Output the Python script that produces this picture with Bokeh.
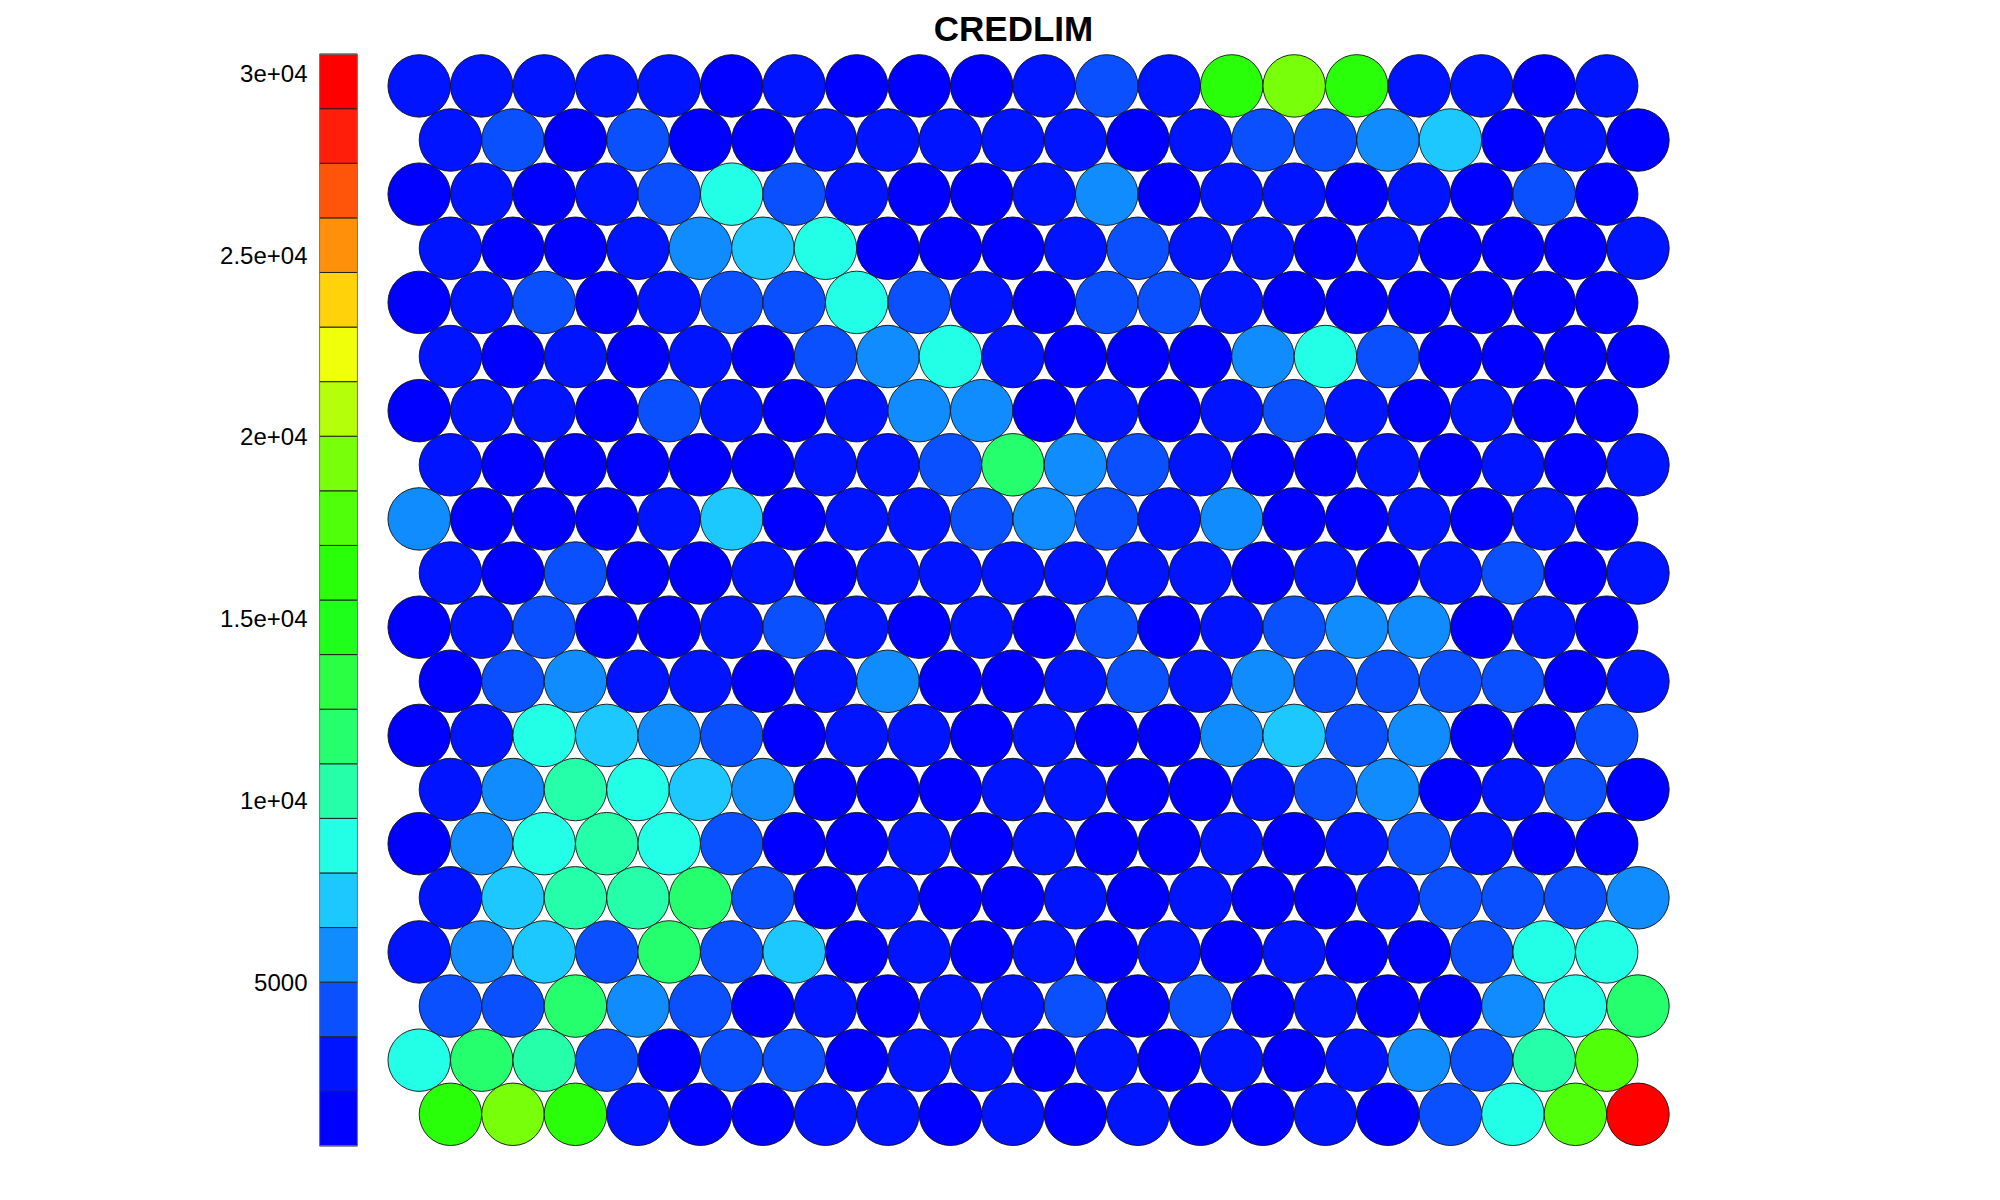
import math
from bokeh.plotting import figure
from bokeh.models import (ColumnDataSource, LinearColorMapper, Range1d, FixedTicker, Label)
from bokeh.layouts import row
from bokeh.embed import file_html
from bokeh.resources import INLINE

TITLE = "CREDLIM"

# colour scale (bottom -> top), 20 steps
PALETTE = ["#0000FF", "#0014FF", "#0A50FF", "#108CFF", "#1CC8FF", "#22FFE6", "#25FFAA",
           "#25FF6E", "#2AFF44", "#1EFF1C", "#2AFF0A", "#50FF0A", "#78FF0A", "#B4FF0A",
           "#F0FF0A", "#FFD20A", "#FF910A", "#FF550A", "#FF1E0A", "#FF0000"]
CB_LOW = 508
CB_HIGH = 30525
CB_TICKS = [5000, 10000, 15000, 20000, 25000, 30000]
CB_LABELS = ["5000", "1e+04", "1.5e+04", "2e+04", "2.5e+04", "3e+04"]

# SOM node values, rows listed from the top of the map, 20 nodes each
VALUES = [
    [2750, 2750, 2750, 2750, 2750, 1250, 2750, 1250, 1250, 1250, 2750, 4250, 2750, 16250, 19250, 16250, 2750, 2750, 1250, 2750],
    [2750, 4250, 1250, 4250, 1250, 1250, 2750, 2750, 2750, 2750, 2750, 1250, 2750, 4250, 4250, 5750, 7250, 1250, 2750, 1250],
    [1250, 2750, 1250, 2750, 4250, 8750, 4250, 2750, 1250, 1250, 2750, 5750, 1250, 2750, 2750, 1250, 2750, 1250, 4250, 1250],
    [2750, 1250, 1250, 2750, 5750, 7250, 8750, 1250, 1250, 1250, 2750, 4250, 2750, 2750, 1250, 2750, 1250, 1250, 1250, 2750],
    [1250, 2750, 4250, 1250, 2750, 4250, 4250, 8750, 4250, 2750, 1250, 4250, 4250, 2750, 1250, 1250, 1250, 1250, 1250, 1250],
    [2750, 1250, 2750, 1250, 2750, 1250, 4250, 5750, 8750, 2750, 1250, 1250, 1250, 5750, 8750, 4250, 1250, 1250, 1250, 1250],
    [1250, 2750, 2750, 1250, 4250, 2750, 1250, 2750, 5750, 5750, 1250, 2750, 1250, 2750, 4250, 2750, 1250, 2750, 1250, 1250],
    [2750, 1250, 1250, 1250, 1250, 1250, 2750, 2750, 4250, 11750, 5750, 4250, 2750, 1250, 1250, 2750, 1250, 2750, 1250, 2750],
    [5750, 1250, 1250, 1250, 2750, 7250, 1250, 2750, 2750, 4250, 5750, 4250, 2750, 5750, 1250, 1250, 2750, 1250, 2750, 1250],
    [2750, 1250, 4250, 1250, 1250, 2750, 1250, 2750, 2750, 2750, 2750, 2750, 2750, 1250, 2750, 1250, 2750, 4250, 1250, 2750],
    [1250, 2750, 4250, 1250, 1250, 2750, 4250, 2750, 1250, 2750, 1250, 4250, 1250, 2750, 4250, 5750, 5750, 1250, 2750, 1250],
    [1250, 4250, 5750, 2750, 2750, 1250, 2750, 5750, 1250, 1250, 2750, 4250, 2750, 5750, 4250, 4250, 4250, 4250, 1250, 2750],
    [1250, 2750, 8750, 7250, 5750, 4250, 1250, 2750, 2750, 1250, 2750, 1250, 1250, 5750, 7250, 4250, 5750, 1250, 1250, 4250],
    [2750, 5750, 10250, 8750, 7250, 5750, 1250, 1250, 1250, 2750, 2750, 1250, 1250, 2750, 4250, 5750, 1250, 2750, 4250, 1250],
    [1250, 5750, 8750, 10250, 8750, 4250, 1250, 1250, 2750, 1250, 2750, 1250, 1250, 2750, 1250, 2750, 4250, 2750, 1250, 1250],
    [2750, 7250, 10250, 10250, 11750, 4250, 1250, 2750, 1250, 1250, 2750, 1250, 2750, 1250, 1250, 2750, 4250, 4250, 4250, 5750],
    [2750, 5750, 7250, 4250, 11750, 4250, 7250, 1250, 2750, 1250, 2750, 1250, 2750, 1250, 2750, 1250, 1250, 4250, 8750, 8750],
    [4250, 4250, 11750, 5750, 4250, 1250, 2750, 1250, 2750, 2750, 4250, 1250, 4250, 1250, 2750, 1250, 1250, 5750, 8750, 11750],
    [8750, 11750, 10250, 4250, 1250, 4250, 4250, 1250, 2750, 2750, 1250, 2750, 1250, 2750, 1250, 2750, 5750, 4250, 10250, 17750],
    [16250, 19250, 16250, 2750, 1250, 1250, 2750, 2750, 1250, 2750, 1250, 2750, 1250, 1250, 2750, 1250, 4250, 8750, 17750, 30500],
]

FONT = "Liberation Sans"
H = 1200
FRAME_TOP = 10       # both figures share the same frame (row layout aligns them)
FRAME_BOTTOM = 1160

# ---------------- colour bar ----------------
BAR_TOP_PX, BAR_BOT_PX = 53.6, 1145.4
per_px = (CB_HIGH - CB_LOW) / (BAR_BOT_PX - BAR_TOP_PX)
cb_range = Range1d(CB_LOW - (FRAME_BOTTOM - BAR_BOT_PX) * per_px,
                   CB_HIGH + (BAR_TOP_PX - FRAME_TOP) * per_px)
cb = figure(width=370, height=H, output_backend="svg", toolbar_location=None,
            x_range=Range1d(0, 1), y_range=cb_range,
            x_axis_location=None, y_axis_location="left",
            min_border_left=319, min_border_right=13,
            min_border_top=FRAME_TOP, min_border_bottom=H - FRAME_BOTTOM,
            outline_line_color=None, background_fill_color="white", border_fill_color="white")
step = (CB_HIGH - CB_LOW) / len(PALETTE)
cb.quad(left=0, right=1,
        bottom=[CB_LOW + i * step for i in range(len(PALETTE))],
        top=[CB_LOW + (i + 1) * step for i in range(len(PALETTE))],
        fill_color=PALETTE, line_color="#222222", line_width=1)
cb.quad(left=[0], right=[1], bottom=[CB_LOW], top=[CB_HIGH],
        fill_color=None, line_color="#777777", line_width=1.2)
cb.xgrid.visible = False
cb.ygrid.visible = False
ax = cb.yaxis[0]
ax.ticker = FixedTicker(ticks=CB_TICKS)
ax.major_label_overrides = {t: s for t, s in zip(CB_TICKS, CB_LABELS)}
ax.axis_line_color = None
ax.major_tick_line_color = None
ax.minor_tick_line_color = None
ax.major_tick_out = 0
ax.major_tick_in = 0
ax.major_label_standoff = 12
ax.major_label_text_font = FONT
ax.major_label_text_font_size = "24px"
ax.major_label_text_color = "black"

# ---------------- SOM map ----------------
W = 1630
UNIT = 62.5
x0_px = 418.7 - 370
nrows = len(VALUES)
ybase_px = 85.4 + (nrows - 1) * UNIT * math.sqrt(3) / 2
xs, ys, vs = [], [], []
for r, vals in enumerate(VALUES):
    for c, v in enumerate(vals):
        xs.append(c + 0.5 * (r % 2))
        ys.append((nrows - 1 - r) * math.sqrt(3) / 2)
        vs.append(v)
src = ColumnDataSource(dict(x=xs, y=ys, value=vs))

xr = Range1d(-x0_px / UNIT, (W - x0_px) / UNIT)
yr = Range1d((ybase_px - FRAME_BOTTOM) / UNIT, (ybase_px - FRAME_TOP) / UNIT)
p = figure(width=W, height=H, output_backend="svg", toolbar_location=None,
           x_range=xr, y_range=yr, x_axis_location=None, y_axis_location=None,
           min_border_left=0, min_border_right=0,
           min_border_top=FRAME_TOP, min_border_bottom=H - FRAME_BOTTOM,
           outline_line_color=None,
           background_fill_color="white", border_fill_color="white")
p.xgrid.visible = False
p.ygrid.visible = False
mapper = LinearColorMapper(palette=PALETTE, low=CB_LOW, high=CB_HIGH)
p.circle(x="x", y="y", radius=0.5, source=src,
         fill_color={"field": "value", "transform": mapper},
         line_color="#111111", line_width=0.9)

# title, centred at x = 1013 px near the top of the page
p.add_layout(Label(x=1013 - 370, y=FRAME_BOTTOM - 28, x_units="screen", y_units="screen",
                   text=TITLE, text_align="center", text_baseline="alphabetic",
                   text_font=FONT, text_font_style="bold", text_font_size="35px",
                   text_color="black"))

layout = row(cb, p)
open("out.html", "w").write(file_html(layout, INLINE))
